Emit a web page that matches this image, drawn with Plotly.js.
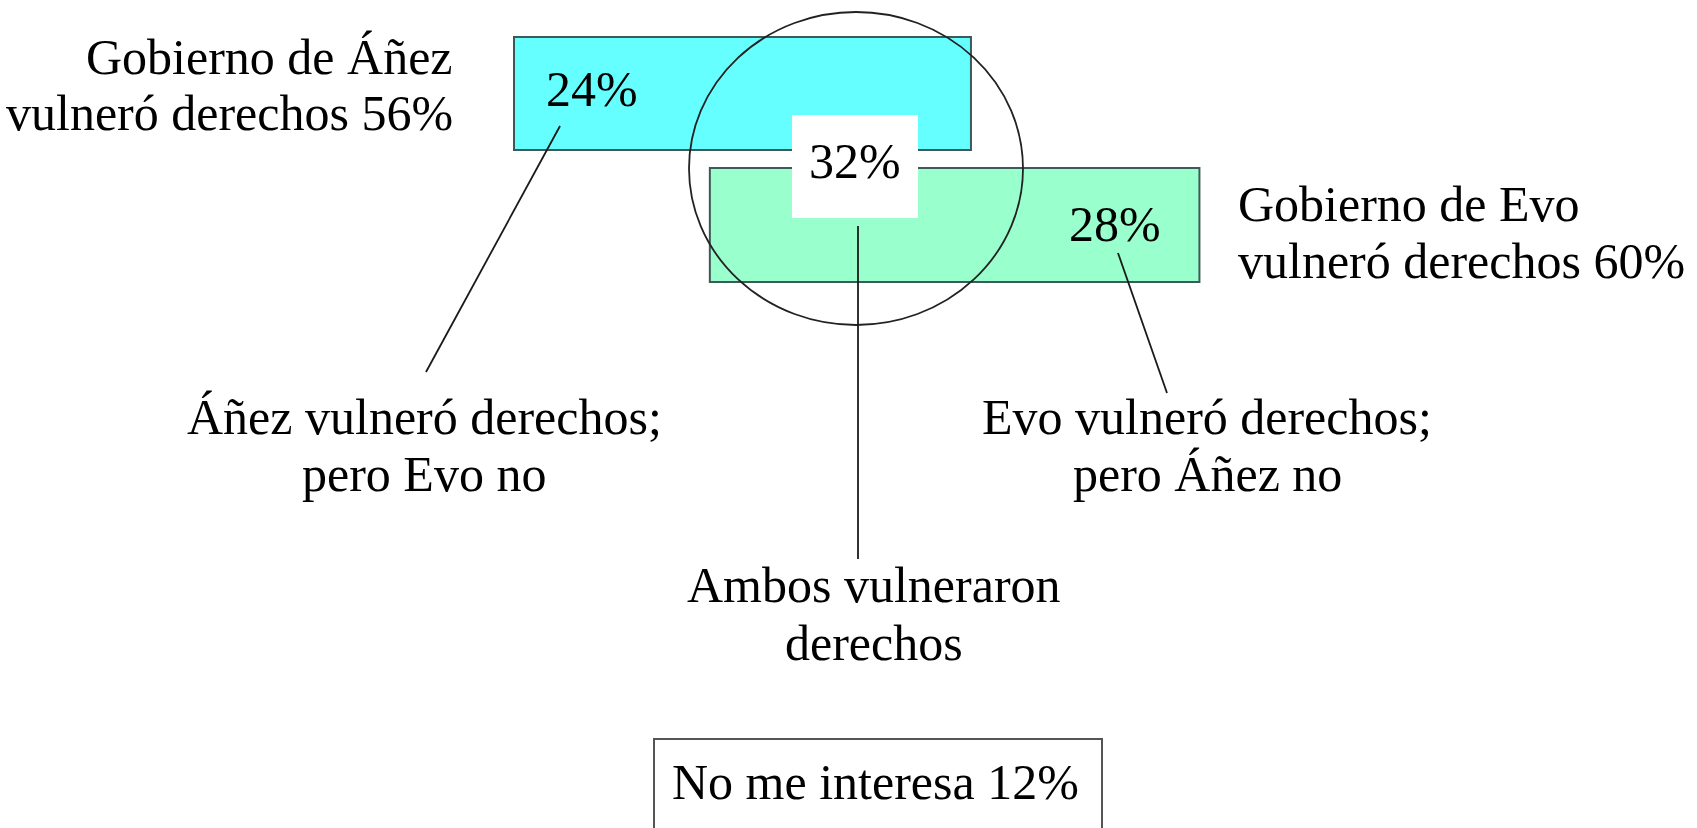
<!DOCTYPE html>
<html>
<head>
<meta charset="utf-8">
<script src="https://cdn.plot.ly/plotly-3.0.1.min.js"></script>
<style>
  html, body { margin: 0; padding: 0; background: #ffffff; }
  #chart { width: 1697px; height: 828px; }
</style>
</head>
<body>
<div id="chart"></div>
<script>
// ---------------- DATA ----------------
const governments = ['Áñez', 'Evo'];
const totalLabels = ['Gobierno de Áñez', 'Gobierno de Evo'];
const totals = [56, 60];                 // % who say each government violated rights
const segmentValues = [24, 32, 28];      // only Áñez, both, only Evo
const segmentLabels = [
  ['Áñez vulneró derechos;', 'pero Evo no'],
  ['Ambos vulneraron', 'derechos'],
  ['Evo vulneró derechos;', 'pero Áñez no']
];
const noInterestLabel = 'No me interesa';
const noInterestValue = 12;

// ---------------- LAYOUT / STYLE ----------------
const W = 1697, H = 828;
const X0PX = 514, PXPERUNIT = 8.16;           // horizontal scale of the bars
const barRows = [93.5, 225];                   // row centres (pixels from top)
const barThick = [113, 114];
const barColors = ['#66FFFF', '#99FFCC'];
const edgeColor = '#3d5a58';
const FONT = 'Liberation Serif, Times New Roman, serif';
const FS = 50;
const BASE_OFF = 17;                           // baseline -> text centre offset

const px = v => v / W;                         // pixel x -> paper

// bars: cyan starts at 0, green starts after the "only Áñez" share
const bases = [0, segmentValues[0]];
const traces = totals.map((t, i) => ({
  type: 'bar',
  orientation: 'h',
  y: [barRows[i]],
  x: [t],
  base: [bases[i]],
  width: [barThick[i]],
  marker: { color: barColors[i], line: { color: edgeColor, width: 2 } },
  hoverinfo: 'skip',
  showlegend: false,
  name: governments[i]
}));

function txt(x, baseline, text, anchor) {
  return {
    xref: 'paper', yref: 'y',
    x: px(x), y: baseline - BASE_OFF,
    xanchor: anchor || 'center', yanchor: 'middle',
    text: text, showarrow: false,
    font: { family: FONT, size: FS, color: '#000000' }
  };
}

const annotations = [
  txt(455, 74, totalLabels[0], 'right'),
  txt(455, 130, 'vulneró derechos ' + totals[0] + '%', 'right'),
  txt(1236, 221, totalLabels[1], 'left'),
  txt(1236, 278, 'vulneró derechos ' + totals[1] + '%', 'left'),
  txt(592, 106, segmentValues[0] + '%'),
  txt(855, 178, segmentValues[1] + '%'),
  txt(1115, 241, segmentValues[2] + '%'),
  txt(424, 434, segmentLabels[0][0]),
  txt(424, 491, segmentLabels[0][1]),
  txt(874, 602, segmentLabels[1][0]),
  txt(874, 660, segmentLabels[1][1]),
  txt(1207, 434, segmentLabels[2][0]),
  txt(1207, 491, segmentLabels[2][1]),
  txt(876, 799, noInterestLabel + ' ' + noInterestValue + '%')
];

const lineStyle = { color: '#1a1a1a', width: 1.8 };
const shapes = [
  // white label box for the overlap
  { type: 'rect', xref: 'paper', yref: 'y', x0: px(792), x1: px(918), y0: 115, y1: 218,
    fillcolor: '#ffffff', line: { width: 0 }, layer: 'above' },
  // ellipse around the overlap
  { type: 'circle', xref: 'paper', yref: 'y', x0: px(689), x1: px(1023), y0: 12, y1: 325,
    line: { color: '#222222', width: 1.8 }, fillcolor: 'rgba(0,0,0,0)', layer: 'above' },
  // connectors
  { type: 'line', xref: 'paper', yref: 'y', x0: px(560), y0: 126, x1: px(426), y1: 372, line: lineStyle },
  { type: 'line', xref: 'paper', yref: 'y', x0: px(858), y0: 226, x1: px(858), y1: 559, line: lineStyle },
  { type: 'line', xref: 'paper', yref: 'y', x0: px(1118), y0: 253, x1: px(1167), y1: 393, line: lineStyle },
  // "No me interesa" box
  { type: 'rect', xref: 'paper', yref: 'paper', x0: px(654), x1: px(1102), y0: 1 - 739 / H, y1: -0.1,
    fillcolor: 'rgba(0,0,0,0)', line: { color: '#555555', width: 2 }, layer: 'above' }
];

const layout = {
  width: W, height: H,
  margin: { l: 0, r: 0, t: 0, b: 0, pad: 0 },
  paper_bgcolor: '#ffffff', plot_bgcolor: '#ffffff',
  barmode: 'overlay',
  showlegend: false,
  xaxis: { range: [-X0PX / PXPERUNIT, (W - X0PX) / PXPERUNIT], visible: false, fixedrange: true },
  yaxis: { range: [H, 0], visible: false, fixedrange: true },
  shapes: shapes,
  annotations: annotations
};

Plotly.newPlot('chart', traces, layout, { staticPlot: true, displayModeBar: false });
</script>
</body>
</html>
